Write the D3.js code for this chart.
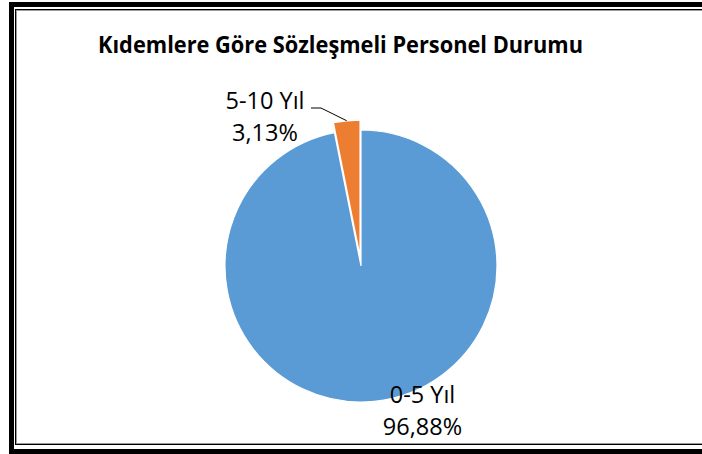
<!DOCTYPE html>
<html>
<head>
<meta charset="utf-8">
<script src="https://cdn.jsdelivr.net/npm/d3@7"></script>
<style>
  body { margin: 0; background: #fff; }
  svg { display: block; }
</style>
</head>
<body>
<div id="chartContainer"></div>
<script>
// chart data
const title = "Kıdemlere Göre Sözleşmeli Personel Durumu";
const categories = ["0-5 Yıl", "5-10 Yıl"];
const values = [96.88, 3.13];
const percentLabels = ["96,88%", "3,13%"];
const colors = ["#5B9BD5", "#ED7D31"];

const width = 702,
  height = 454;

const cx = 361,
  cy = 266,
  radius = 136;

const svg = d3
  .select("#chartContainer")
  .append("svg")
  .attr("width", width)
  .attr("height", height);

// frame (double border, right edge falls outside the picture)
svg.append("rect")
  .attr("x", 11.5).attr("y", 4.5)
  .attr("width", 720).attr("height", 447)
  .attr("fill", "none").attr("stroke", "#000").attr("stroke-width", 5);
svg.append("rect")
  .attr("x", 15.5).attr("y", 9.5)
  .attr("width", 720).attr("height", 435)
  .attr("fill", "none").attr("stroke", "#000").attr("stroke-width", 1);
svg.append("rect")
  .attr("x", 16.5).attr("y", 10.5)
  .attr("width", 720).attr("height", 433)
  .attr("fill", "none").attr("stroke", "#9a9a9a").attr("stroke-width", 1);

// title
svg.append("text")
  .attr("x", 98)
  .attr("y", 52.5)
  .attr("textLength", 485)
  .attr("lengthAdjust", "spacingAndGlyphs")
  .style("font-family", "'Open Sans', sans-serif")
  .style("font-weight", "bold")
  .style("font-size", "22.5px")
  .style("fill", "#000")
  .text(title);

const pie = d3.pie().sort(null).startAngle(0).endAngle(2 * Math.PI);
const arcs = pie(values);
const arc = d3.arc().innerRadius(0).outerRadius(radius);

// explode distance per slice
const explode = [0, 10];

const g = svg.append("g").attr("transform", "translate(" + cx + "," + cy + ")");

const offset = (d, i) => {
  const mid = (d.startAngle + d.endAngle) / 2;
  return [Math.sin(mid) * explode[i], -Math.cos(mid) * explode[i]];
};

g.selectAll("path")
  .data(arcs)
  .enter()
  .append("path")
  .attr("d", arc)
  .attr("transform", (d, i) => "translate(" + offset(d, i) + ")")
  .attr("fill", (d, i) => colors[i])
  .attr("stroke", "#fff")
  .attr("stroke-width", 1.2);

// data labels (position relative to pie centre)
const labelPos = [
  [61.5, 137],
  [-96, -157],
];
const lineGap = 32;

arcs.forEach((d, i) => {
  const t = g.append("text")
    .attr("text-anchor", "middle")
    .style("font-family", "'Open Sans', sans-serif")
    .style("font-size", "23.5px")
    .style("fill", "#000");
  t.append("tspan").attr("x", labelPos[i][0]).attr("y", labelPos[i][1]).text(categories[i]);
  t.append("tspan").attr("x", labelPos[i][0]).attr("y", labelPos[i][1] + lineGap).text(percentLabels[i]);
});

// leader line for the small slice
const small = arcs[1];
const mid = (small.startAngle + small.endAngle) / 2;
const off = offset(small, 1);
const edge = [off[0] + Math.sin(mid) * radius, off[1] - Math.cos(mid) * radius];
const start = [labelPos[1][0] + 46, labelPos[1][1] - 1];
g.append("path")
  .attr("d", d3.line()([start, [start[0] + 10, start[1]], edge]))
  .attr("fill", "none")
  .attr("stroke", "#000")
  .attr("stroke-width", 1);
</script>
</body>
</html>
